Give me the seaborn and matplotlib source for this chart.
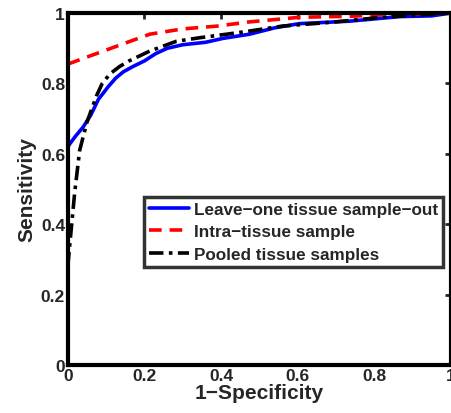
import matplotlib
matplotlib.use("Agg")
import matplotlib.pyplot as plt
import seaborn as sns
import pandas as pd

# ROC curves
loo_fpr = [0.0, 0.005, 0.02, 0.04, 0.06, 0.08, 0.105, 0.125, 0.145, 0.17, 0.2, 0.23, 0.26, 0.30, 0.36, 0.405, 0.475, 0.54, 0.605, 0.736, 0.867, 0.95, 1.0]
loo_tpr = [0.62, 0.628, 0.65, 0.676, 0.71, 0.755, 0.79, 0.815, 0.833, 0.848, 0.864, 0.885, 0.90, 0.91, 0.917, 0.928, 0.94, 0.958, 0.97, 0.977, 0.99, 0.992, 1.0]

intra_fpr = [0.0, 0.05, 0.128, 0.214, 0.30, 0.39, 0.475, 0.605, 0.74, 0.867, 1.0]
intra_tpr = [0.855, 0.875, 0.906, 0.94, 0.955, 0.963, 0.975, 0.988, 0.991, 0.997, 1.0]

pooled_fpr = [0.0, 0.005, 0.018, 0.031, 0.05, 0.075, 0.09, 0.11, 0.135, 0.16, 0.214, 0.284, 0.345, 0.415, 0.475, 0.56, 0.69, 0.82, 0.95, 1.0]
pooled_tpr = [0.28, 0.34, 0.49, 0.61, 0.69, 0.765, 0.8, 0.827, 0.848, 0.864, 0.892, 0.92, 0.93, 0.94, 0.949, 0.963, 0.974, 0.988, 0.997, 1.0]

labels = ["Leave\u2212one tissue sample\u2212out", "Intra\u2212tissue sample", "Pooled tissue samples"]
ticks = [0, 0.2, 0.4, 0.6, 0.8, 1]
tick_labels = ["0", "0.2", "0.4", "0.6", "0.8", "1"]

sns.set_style("white")
plt.rcParams["font.family"] = ["Liberation Sans", "DejaVu Sans"]
plt.rcParams["font.weight"] = "bold"

fig = plt.figure(figsize=(4.52, 4.14), dpi=100)
ax = fig.add_axes([0.150, 0.116, 0.847, 0.850])

sns.lineplot(x=loo_fpr, y=loo_tpr, ax=ax, color="#0000ff", lw=2.6, label=labels[0], estimator=None, sort=False)
sns.lineplot(x=intra_fpr, y=intra_tpr, ax=ax, color="#ff0000", lw=2.6, label=labels[1], estimator=None, sort=False,
             linestyle=(0, (3.5, 2.2)))
sns.lineplot(x=pooled_fpr, y=pooled_tpr, ax=ax, color="black", lw=2.6, label=labels[2], estimator=None, sort=False,
             linestyle=(0, (4, 1.5, 1, 1.5)))

ax.set_xlim(0, 1)
ax.set_ylim(0, 1)
ax.set_xticks(ticks)
ax.set_xticklabels(tick_labels)
ax.set_yticks(ticks)
ax.set_yticklabels(tick_labels)
ax.tick_params(direction="in", length=4, width=2, top=True, right=True, labelsize=12.5, pad=2)
for s in ax.spines.values():
    s.set_linewidth(3)
    s.set_color("black")
    s.set_visible(True)

ax.set_xlabel("1\u2212Specificity", fontsize=15, fontweight="bold", labelpad=0)
ax.set_ylabel("Sensitivity", fontsize=15, fontweight="bold", labelpad=3)

leg = ax.legend(loc="upper left", bbox_to_anchor=(0.20, 0.477), fontsize=12.3, frameon=True, fancybox=False,
                handlelength=2.3, handletextpad=0.3, borderpad=0.3, labelspacing=0.42, borderaxespad=0)
leg.get_frame().set_edgecolor("black")
leg.get_frame().set_linewidth(2.5)
for t in leg.get_texts():
    t.set_fontweight("bold")

fig.savefig("out.png", dpi=100)
